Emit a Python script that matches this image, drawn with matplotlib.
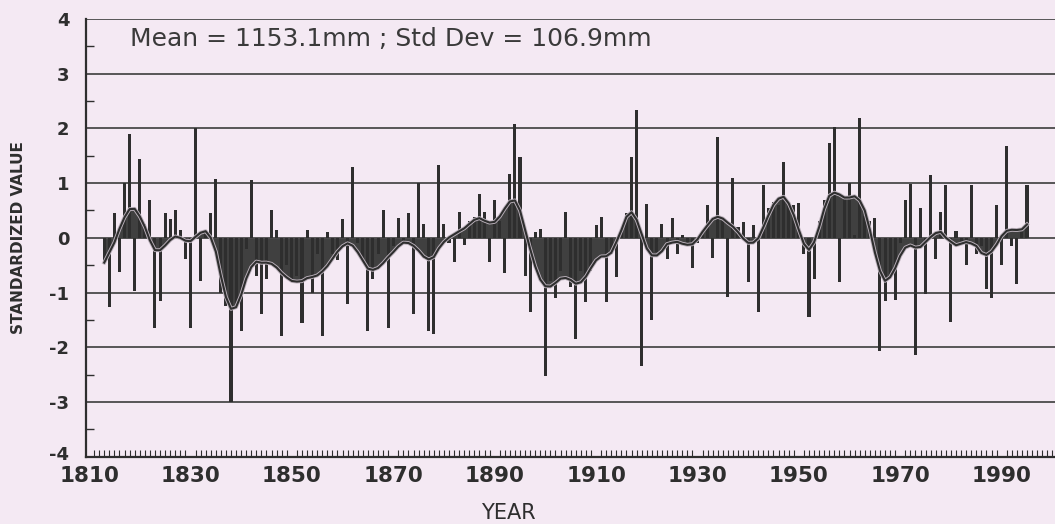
import numpy as np
import matplotlib
matplotlib.use("Agg")
import matplotlib.pyplot as plt
import matplotlib.patheffects as pe
from matplotlib.ticker import MultipleLocator
from matplotlib.transforms import ScaledTranslation

# ---------------- data ----------------
start_year = 1813
values = [
    -0.42, -1.27, 0.45, -0.62, 1.0, 1.9, -0.98,                      # 1813-1819
    1.45, 0.25, 0.7, -1.65, -1.15, 0.45, 0.35, 0.5, 0.15, -0.38,     # 1820s
    -1.65, 2.0, -0.78, 0.1, 0.45, 1.08, -1.0, -1.25, -3.0, -1.25,    # 1830s
    -1.7, -0.2, 1.05, -0.7, -1.4, -0.75, 0.5, 0.15, -1.8, -0.5,      # 1840s
    -0.8, -0.7, -1.55, 0.15, -1.0, -0.3, -1.8, 0.1, -0.3, -0.4,      # 1850s
    0.35, -1.2, 1.3, -0.1, -0.4, -1.7, -0.75, -0.3, 0.5, -1.65,      # 1860s
    -0.15, 0.37, -0.1, 0.45, -1.4, 1.0, 0.25, -1.7, -1.75, 1.33,     # 1870s
    0.26, -0.1, -0.45, 0.48, -0.13, 0.3, 0.39, 0.8, 0.48, -0.45,     # 1880s
    0.69, 0.3, -0.64, 1.16, 2.08, 1.47, -0.7, -1.36, 0.1, 0.17,      # 1890s
    -2.52, -0.78, -1.1, -0.6, 0.47, -0.9, -1.85, -0.6, -1.17, -0.6,  # 1900s
    0.23, 0.39, -1.17, -0.3, -0.72, 0.1, 0.45, 1.47, 2.34, -2.34,    # 1910s
    0.61, -1.51, -0.25, 0.26, -0.38, 0.37, -0.29, 0.05, -0.1, -0.56, # 1920s
    -0.1, 0.05, 0.6, -0.37, 1.85, 0.3, -1.08, 1.1, 0.2, 0.29,        # 1930s
    -0.8, 0.23, -1.36, 0.97, 0.55, 0.66, 0.6, 1.38, 0.6, 0.6,        # 1940s
    0.63, -0.3, -1.45, -0.75, 0.3, 0.7, 1.73, 2.02, -0.8, 0.75,      # 1950s
    1.0, 0.05, 2.19, 0.4, 0.3, 0.37, -2.06, -1.16, -0.7, -1.14,      # 1960s
    -0.1, 0.69, 0.98, -2.15, 0.54, -1.02, 1.15, -0.38, 0.48, 0.97,   # 1970s
    -1.54, 0.12, -0.1, -0.5, 0.97, -0.29, -0.15, -0.93, -1.1, 0.6,   # 1980s
    -0.5, 1.67, -0.15, -0.84, 0.1, 0.97,                             # 1990-1995
]
x_tick_labels = ["1810", "1830", "1850", "1870", "1890",
                 "1910", "1930", "1950", "1970", "1990"]
y_tick_labels = ["-4", "-3", "-2", "-1", "0", "1", "2", "3", "4"]
stats_text = "Mean = 1153.1mm ; Std Dev = 106.9mm"

years = np.arange(start_year, start_year + len(values))
vals = np.array(values, dtype=float)

# smoothed curve (Gaussian low-pass of the series, normalised at the ends)
k = np.arange(-4, 5)
w = np.exp(-0.5 * (k / 2.0) ** 2)
num = np.convolve(vals, w, mode="same")
den = np.convolve(np.ones_like(vals), w, mode="same")
smooth = num / den

# ---------------- figure ----------------
bg = "#f4e9f3"
ink = "#2e2e2e"
fig = plt.figure(figsize=(10.55, 5.24), dpi=100, facecolor=bg)
ax = fig.add_axes([86 / 1055, 1 - 456.7 / 524, 1 - 86 / 1055, (456.7 - 19) / 524])
ax.set_facecolor(bg)

ax.set_xlim(1809.4, 1809.4 + (1055 - 86) / 5.07)
ax.set_ylim(-4, 4)

# grid
for yv in range(-3, 5):
    ax.axhline(yv, color="#4a4a4a", lw=1.3, zorder=1)

# fill between smoothed curve and zero
ax.fill_between(years, smooth, 0, color="#404040", lw=0, zorder=2)

# bars
ax.bar(years, vals, width=0.6, color=ink, lw=0, zorder=3)

# smoothed curve with faint light halo
ax.plot(years, smooth, color=ink, lw=1.5, zorder=4,
        path_effects=[pe.Stroke(linewidth=2.8, foreground="#bdb3bd"), pe.Normal()])

# axes styling
for s in ["top", "right"]:
    ax.spines[s].set_visible(False)
ax.spines["left"].set_linewidth(1.6)
ax.spines["bottom"].set_linewidth(1.6)
ax.spines["left"].set_color(ink)
ax.spines["bottom"].set_color(ink)

ax.set_xticks(np.arange(1810, 1991, 20))
ax.set_xticklabels(x_tick_labels)
ax.xaxis.set_minor_locator(MultipleLocator(1))
ax.tick_params(axis="x", which="major", length=0, pad=7,
               labelsize=15.5, labelcolor=ink)
ax.tick_params(axis="x", which="minor", direction="in", length=5,
               width=0.8, color=ink)
for lab in ax.get_xticklabels():
    lab.set_fontweight("bold")

ax.set_yticks(np.arange(-4, 5))
ax.set_yticklabels(y_tick_labels)
ax.yaxis.set_minor_locator(MultipleLocator(0.5))
ax.tick_params(axis="y", which="major", direction="in", length=0, pad=12,
               labelsize=13, labelcolor=ink)
ax.tick_params(axis="y", which="minor", direction="in", length=6,
               width=1.0, color=ink)
ylabs = ax.get_yticklabels()
for lab in ylabs:
    lab.set_fontweight("bold")
# nudge the bottom label up slightly so it clears the year labels
ylabs[0].set_transform(ylabs[0].get_transform()
                       + ScaledTranslation(0, 3 / 72, fig.dpi_scale_trans))

ax.text((130 - 86) / 969, 3.5, stats_text,
        transform=ax.get_yaxis_transform(), fontsize=18, color="#3a3a3a",
        va="baseline", ha="left", zorder=6)

fig.text(19 / 1055, 1 - 238 / 524, "STANDARDIZED VALUE", rotation=90,
         ha="center", va="center", fontsize=11, fontweight="bold",
         family=["Liberation Sans Narrow", "DejaVu Sans"], color=ink)
fig.text(508 / 1055, 1 - 513 / 524, "YEAR", ha="center", va="center",
         fontsize=15, color=ink)

fig.savefig("out.png", dpi=100, facecolor=bg)
